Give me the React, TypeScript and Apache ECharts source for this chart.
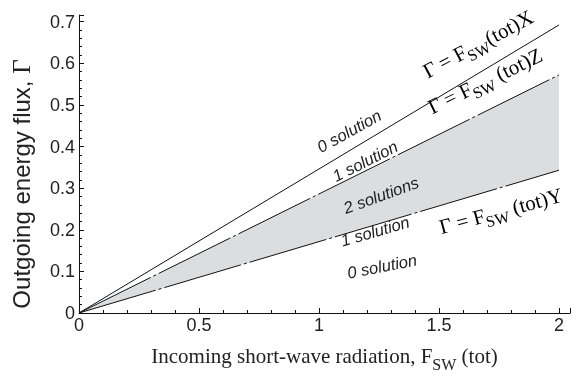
import React, { useEffect, useRef } from "react";
import * as echarts from "echarts";

const xValues = [0, 2];
const lineX = [0, 0.692];
const lineZ = [0, 0.572];
const lineY = [0, 0.343];

const xTicks = [0, 0.5, 1, 1.5, 2];
const yTicks = [0, 0.1, 0.2, 0.3, 0.4, 0.5, 0.6, 0.7];

const regionLabels = [
  { text: "0 solution", x: 349, y: 131, angle: 29 },
  { text: "1 solution", x: 365, y: 161, angle: 27 },
  { text: "2 solutions", x: 381, y: 195, angle: 20 },
  { text: "1 solution", x: 375, y: 231, angle: 16 },
  { text: "0 solution", x: 382, y: 266, angle: 11 },
];

const eqLabels = [
  { name: "X", sp: "", x: 478, y: 44, angle: 28 },
  { name: "Z", sp: " ", x: 485, y: 81, angle: 26 },
  { name: "Y", sp: " ", x: 501, y: 211, angle: 15 },
];

const serif = "'Liberation Serif', 'Times New Roman', serif";
const sans = "'Liberation Sans', Arial, Helvetica, sans-serif";

export default function App() {
  const ref = useRef<HTMLDivElement>(null);
  useEffect(() => {
    if (!ref.current) return;
    const chart = echarts.init(ref.current, null, { renderer: "svg" });
    const pts = (arr: number[]) => xValues.map((x, i) => [x, arr[i]]);
    const eqRich = {
      a: { fontFamily: serif, fontSize: 21, color: "#111", verticalAlign: "middle" },
      s: { fontFamily: serif, fontSize: 16, color: "#111", verticalAlign: "middle", padding: [14, 0, 0, 0] },
    };
    chart.setOption({
      animation: false,
      grid: { left: 79, right: 7, top: 15, bottom: 55.3, containLabel: false },
      xAxis: {
        type: "value",
        min: 0,
        max: 2.046,
        interval: 0.5,
        splitLine: { show: false },
        axisLine: { lineStyle: { color: "#111", width: 1 } },
        axisTick: { inside: true, length: 5, lineStyle: { color: "#111" } },
        minorTick: { show: true, splitNumber: 5, length: 3, lineStyle: { color: "#111" } },
        axisLabel: {
          showMaxLabel: false,
          fontFamily: sans,
          fontSize: 18,
          color: "#222",
          margin: 3,
          formatter: (v: number) => (xTicks.includes(v) ? String(v) : ""),
        },
        name: "{a|Incoming short-wave radiation, F}{s|SW}{a| (tot)}",
        nameLocation: "middle",
        nameGap: 27,
        nameTextStyle: {
          rich: {
            a: { fontFamily: serif, fontSize: 21, color: "#222", verticalAlign: "middle" },
            s: { fontFamily: serif, fontSize: 16, color: "#222", verticalAlign: "middle", padding: [16, 0, 0, 0] },
          },
        },
      },
      yAxis: {
        type: "value",
        min: 0,
        max: 0.716,
        interval: 0.1,
        splitLine: { show: false },
        axisLine: { lineStyle: { color: "#111", width: 1 } },
        axisTick: { inside: true, length: 5, lineStyle: { color: "#111" } },
        minorTick: { show: true, splitNumber: 5, length: 3, lineStyle: { color: "#111" } },
        axisLabel: {
          showMaxLabel: false,
          fontFamily: sans,
          fontSize: 18,
          color: "#222",
          margin: 4,
          formatter: (v: number) => {
            const t = yTicks.find((y) => Math.abs(y - v) < 1e-6);
            return t === undefined ? "" : String(t);
          },
        },
        name: "{a|Outgoing energy flux, }{g|Γ}",
        nameLocation: "middle",
        nameGap: 45,
        nameTextStyle: {
          padding: [0, 40, 0, 0],
          rich: {
            a: { fontFamily: sans, fontSize: 24, color: "#222" },
            g: { fontFamily: serif, fontSize: 25, color: "#222" },
          },
        },
      },
      series: [
        {
          type: "custom",
          silent: true,
          data: xValues.map((x, i) => [x, lineY[i], lineZ[i]]),
          encode: { x: 0, y: [1, 2] },
          renderItem: (params: any, api: any) => {
            if (params.dataIndex !== 0) return null;
            const top = xValues.map((x, i) => api.coord([x, lineZ[i]]));
            const bot = xValues.map((x, i) => api.coord([x, lineY[i]])).reverse();
            return {
              type: "polygon",
              shape: { points: [...top, ...bot] },
              style: { fill: "#dcdddf", stroke: "none" },
            };
          },
          z: 1,
        },
        {
          type: "line",
          data: pts(lineX),
          symbol: "none",
          z: 3,
          lineStyle: { color: "#111", width: 1 },
        },
        {
          type: "line",
          data: pts(lineZ),
          symbol: "none",
          z: 3,
          lineStyle: { color: "#111", width: 1, type: [80, 3, 3, 3] },
        },
        {
          type: "line",
          data: pts(lineY),
          symbol: "none",
          z: 3,
          lineStyle: { color: "#111", width: 1, type: [80, 3, 3, 3] },
        },
      ],
      graphic: [
        ...regionLabels.map((l) => ({
          type: "text",
          x: l.x,
          y: l.y,
          rotation: (l.angle * Math.PI) / 180,
          z: 100,
          style: {
            text: l.text,
            fontFamily: sans,
            fontStyle: "italic",
            fontSize: 16.5,
            fill: "#222",
            align: "center",
            verticalAlign: "middle",
          },
        })),
        ...eqLabels.map((l) => ({
          type: "text",
          x: l.x,
          y: l.y,
          rotation: (l.angle * Math.PI) / 180,
          z: 100,
          style: {
            text: `{a|Γ = F}{s|SW}{a|${l.sp}(tot)${l.name}}`,
            rich: eqRich,
            align: "center",
            verticalAlign: "middle",
          },
        })),
      ],
    });
    return () => chart.dispose();
  }, []);
  return (
    <div
      ref={ref}
      style={{ position: "fixed", left: 0, top: 0, width: 577, height: 377 }}
    />
  );
}
